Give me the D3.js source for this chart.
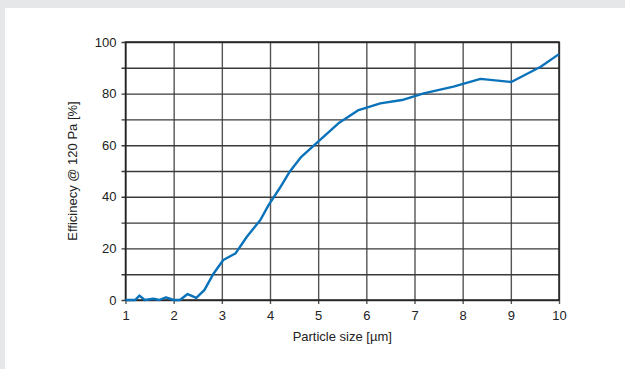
<!DOCTYPE html>
<html>
<head>
<meta charset="utf-8">
<script src="https://cdn.jsdelivr.net/npm/d3@7"></script>
<style>
  html, body { margin: 0; padding: 0; background: #e6e7e8; }
  #chart { position: absolute; left: 0; top: 0; }
</style>
</head>
<body>
<div id="chart"></div>
<script>
// particle size [µm] and efficiency [%]
const sizes = [1, 1.2, 1.29, 1.4, 1.58, 1.7, 1.84, 2, 2.13, 2.29, 2.47, 2.64, 2.83, 3.03, 3.28, 3.52, 3.8, 3.97,
  4.2, 4.4, 4.65, 5.0, 5.42, 5.84, 6.29, 6.74, 7.19, 7.81, 8.37, 9.01, 9.62, 10];
const efficiency = [0, 0, 1.7, 0, 0.5, 0, 1.0, 0, 0, 2.3, 0.8, 3.9, 10.3, 15.5, 18, 24.5, 31, 36.8,
  43.3, 49.5, 55.5, 61.4, 68.5, 73.6, 76.2, 77.5, 80.1, 82.7, 85.7, 84.5, 90.4, 95.3];
const xTicks = [1, 2, 3, 4, 5, 6, 7, 8, 9, 10];
const yGrid = [0, 10, 20, 30, 40, 50, 60, 70, 80, 90, 100];
const yLabels = [0, 20, 40, 60, 80, 100];

const W = 625, H = 369;
const margin = { top: 42, right: 66, bottom: 69, left: 125.5 };
const width = W - margin.left - margin.right;
const height = H - margin.top - margin.bottom;
const font = 'Liberation Sans, Arial, sans-serif';

const svg = d3.select('#chart').append('svg')
  .attr('width', W)
  .attr('height', H);

// white panel over the grey page
svg.append('rect')
  .attr('x', 5).attr('y', 8)
  .attr('width', W - 5).attr('height', H - 8)
  .attr('fill', '#ffffff');

const g = svg.append('g')
  .attr('transform', 'translate(' + margin.left + ',' + margin.top + ')');

const x = d3.scaleLinear().domain([1, 10]).range([0, width]);
const y = d3.scaleLinear().domain([0, 100]).range([height, 0]);

// vertical grid + bottom ticks
g.append('g')
  .attr('transform', `translate(0,${height})`)
  .call(d3.axisBottom(x).tickValues(xTicks).tickSize(4).tickSizeOuter(0))
  .call(a => a.select('.domain').remove())
  .call(a => a.selectAll('.tick line')
    .attr('y1', 4).attr('y2', -height)
    .attr('stroke', '#555').attr('stroke-width', 1.4))
  .call(a => a.selectAll('.tick text')
    .attr('y', 11)
    .attr('font-family', font).attr('font-size', 13).attr('fill', '#222'));

// horizontal grid + left ticks
g.append('g')
  .call(d3.axisLeft(y).tickValues(yGrid).tickSize(4).tickSizeOuter(0))
  .call(a => a.select('.domain').remove())
  .call(a => a.selectAll('.tick line')
    .attr('x1', -4).attr('x2', width)
    .attr('stroke', '#3a3a3a').attr('stroke-width', 1.4))
  .call(a => a.selectAll('.tick text')
    .attr('x', -9)
    .attr('font-family', font).attr('font-size', 13).attr('fill', '#222')
    .text(d => yLabels.includes(d) ? d : ''));

// frame
g.append('rect')
  .attr('width', width).attr('height', height)
  .attr('fill', 'none')
  .attr('stroke', '#222').attr('stroke-width', 1.5);

// efficiency curve
const line = d3.line()
  .x((d, i) => x(sizes[i]))
  .y(d => y(d));
g.append('path')
  .datum(efficiency)
  .attr('fill', 'none')
  .attr('stroke', '#0a72ba')
  .attr('stroke-width', 2.4)
  .attr('stroke-linejoin', 'round')
  .attr('d', line);

// axis titles
g.append('text')
  .attr('x', width / 2)
  .attr('y', height + 41)
  .attr('text-anchor', 'middle')
  .attr('font-family', font).attr('font-size', 13).attr('fill', '#222')
  .text('Particle size [µm]');

g.append('text')
  .attr('transform', `translate(${-49},${height / 2}) rotate(-90)`)
  .attr('text-anchor', 'middle')
  .attr('font-family', font).attr('font-size', 13).attr('fill', '#222')
  .text('Efficinecy @ 120 Pa [%]');
</script>
</body>
</html>
